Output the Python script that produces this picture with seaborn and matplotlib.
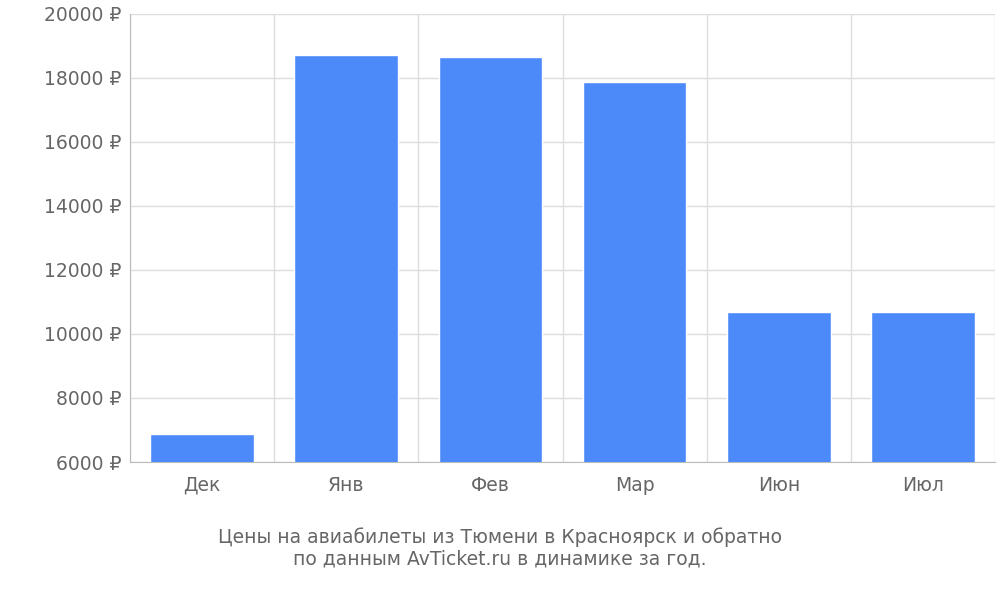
import matplotlib
matplotlib.use("Agg")
import matplotlib.pyplot as plt
import seaborn as sns
import numpy as np

months = ["Дек", "Янв", "Фев", "Мар", "Июн", "Июл"]
prices = [6870, 18720, 18650, 17880, 10670, 10670]
yticks = [6000, 8000, 10000, 12000, 14000, 16000, 18000, 20000]

sns.set_style("white")
plt.rcParams['font.family'] = ['DejaVu Sans']
fig = plt.figure(figsize=(10, 6), dpi=100)
ax = fig.add_axes([0.13, 0.23, 0.865, 0.747])
sns.barplot(x=months, y=prices, color="#4d8af9", saturation=1, width=0.72, ax=ax, zorder=3)
ax.set_ylim(6000, 20000)
ax.set_xlim(-0.5, 5.5)
ax.set_yticks(yticks)
ax.set_yticklabels([f"{v} ₽" for v in yticks])
ax.set_xticks(np.arange(-0.5, 6, 1), minor=True)
ax.grid(True, axis="y", color="#dddddd", lw=1, zorder=0)
ax.grid(True, axis="x", which="minor", color="#dddddd", lw=1, zorder=0)
ax.tick_params(axis="x", which="major", length=0, pad=10, labelsize=13.5, labelcolor="#666666")
ax.tick_params(axis="x", which="minor", length=18, color="#bbbbbb")
ax.tick_params(axis="y", length=0, pad=6, labelsize=13.5, labelcolor="#666666")
for s in ["top", "right"]:
    ax.spines[s].set_visible(False)
ax.spines["left"].set_color("#bbbbbb")
ax.spines["bottom"].set_color("#bbbbbb")
fig.text(0.5, 0.087, "Цены на авиабилеты из Тюмени в Красноярск и обратно\nпо данным AvTicket.ru в динамике за год.",
         ha="center", va="center", fontsize=13.5, color="#666666", linespacing=1.2)
fig.savefig("out.png", dpi=100)
